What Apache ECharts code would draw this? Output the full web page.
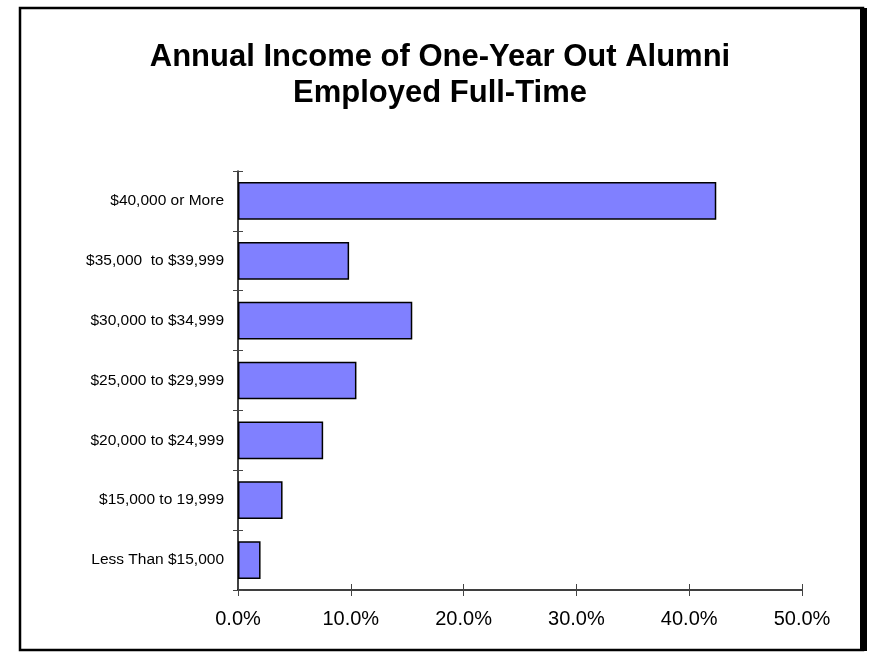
<!DOCTYPE html>
<html>
<head>
<meta charset="utf-8">
<script src="https://cdn.jsdelivr.net/npm/echarts@6/dist/echarts.min.js"></script>
<style>
html,body{margin:0;padding:0;background:#fff;}
#c{width:871px;height:652px;}
</style>
</head>
<body>
<div id="c"></div>
<script>
var titleText = 'Annual Income of One-Year Out Alumni\nEmployed Full-Time';
var categories = ['$40,000 or More', '$35,000  to $39,999', '$30,000 to $34,999', '$25,000 to $29,999', '$20,000 to $24,999', '$15,000 to 19,999', 'Less Than $15,000'];
var values = [42.4, 9.85, 15.45, 10.5, 7.55, 3.95, 2.0];
var xMin = 0, xMax = 50, xStep = 10;

var FONT = '"Liberation Sans", Arial, sans-serif';
var chart = echarts.init(document.getElementById('c'), null, {renderer: 'canvas'});
chart.setOption({
  animation: false,
  backgroundColor: '#ffffff',
  title: {
    text: titleText,
    left: 435,
    textAlign: 'center',
    top: 34,
    textStyle: {fontFamily: FONT, fontWeight: 'bold', fontSize: 31, color: '#000', lineHeight: 36}
  },
  graphic: [
    {type: 'rect', shape: {x: 20, y: 8, width: 843, height: 642}, style: {fill: 'none', stroke: '#000', lineWidth: 2.5}, z: 100},
    {type: 'rect', shape: {x: 860, y: 8, width: 7, height: 643}, style: {fill: '#000'}, z: 100}
  ],
  grid: {left: 238, right: 69, top: 171, bottom: 62, containLabel: false},
  xAxis: [{
    type: 'value', min: xMin, max: xMax, interval: xStep, position: 'bottom',
    axisLine: {show: true, lineStyle: {color: '#000', width: 1.5}},
    axisTick: {show: true, length: 6, lineStyle: {color: '#444'}},
    splitLine: {show: false},
    axisLabel: {fontFamily: FONT, fontSize: 20, color: '#000', margin: 19, formatter: function(v){return v.toFixed(1) + '%';}}
  }, {
    type: 'value', min: xMin, max: xMax, interval: xStep, position: 'bottom',
    axisLine: {show: false}, axisTick: {show: true, inside: true, length: 6, lineStyle: {color: '#444'}},
    splitLine: {show: false}, axisLabel: {show: false}
  }],
  yAxis: [{
    type: 'category', data: categories, inverse: true, position: 'left',
    axisLine: {show: true, lineStyle: {color: '#000', width: 1.5}},
    axisTick: {show: true, length: 5, lineStyle: {color: '#444'}},
    axisLabel: {fontFamily: FONT, fontSize: 15.5, color: '#000', margin: 14}
  }, {
    type: 'category', data: categories, inverse: true, position: 'left',
    axisLine: {show: false},
    axisTick: {show: true, inside: true, length: 5, lineStyle: {color: '#444'}},
    axisLabel: {show: false}
  }],
  series: [{
    type: 'bar', data: values, xAxisIndex: 0, yAxisIndex: 0,
    barCategoryGap: '37%',
    itemStyle: {color: '#8080FF', borderColor: '#000', borderWidth: 1.5},
    silent: true
  }]
});
</script>
</body>
</html>
